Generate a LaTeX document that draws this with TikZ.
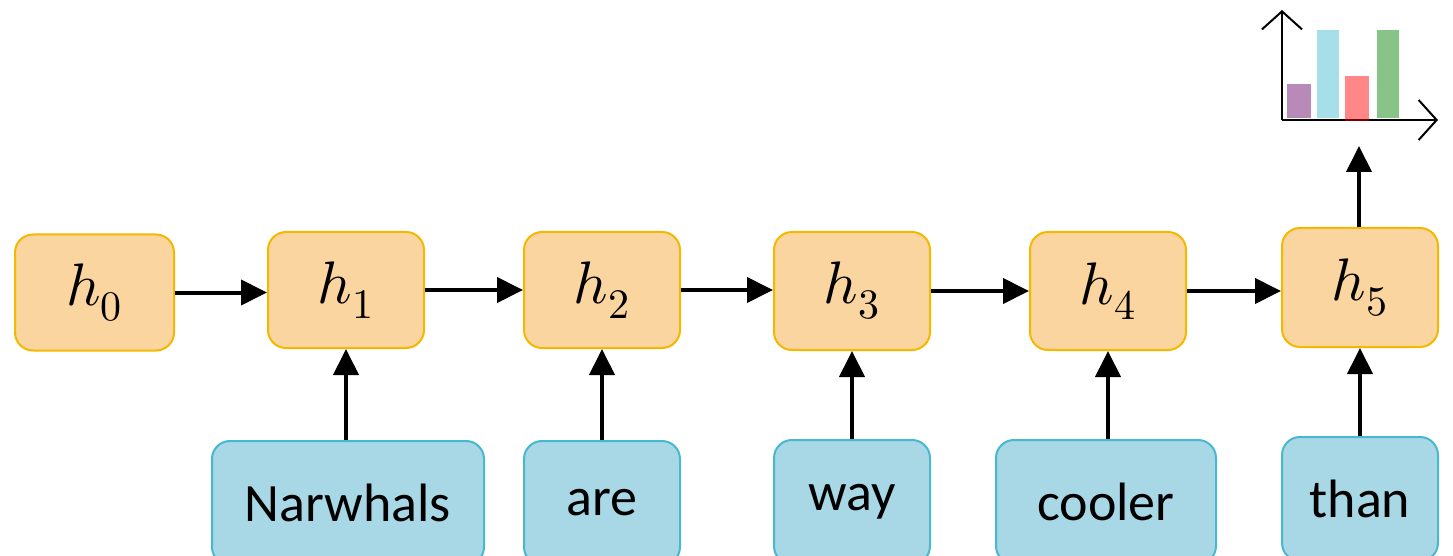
\documentclass[tikz,border=0pt]{standalone}
\usepackage{fontspec}
\setmainfont{Carlito}
\usepackage{unicode-math}
\setmathfont{Latin Modern Math}
\usetikzlibrary{arrows.meta}
\definecolor{hfill}{HTML}{FBD59F}
\definecolor{hdraw}{HTML}{F5B800}
\definecolor{wfill}{HTML}{A8D8E6}
\definecolor{wdraw}{HTML}{48B8D0}
\definecolor{barP}{HTML}{B88AB8}
\definecolor{barC}{HTML}{A6DEE9}
\definecolor{barG}{HTML}{88C488}
\tikzset{
  hbox/.style={draw=hdraw, fill=hfill, line width=1pt, rounded corners=9pt,
    minimum width=78pt, minimum height=58pt, inner sep=0pt,
    font=\fontsize{30}{34}\selectfont},
  wbox/.style={draw=wdraw, fill=wfill, line width=1pt, rounded corners=9pt,
    minimum width=78pt, minimum height=62pt, inner sep=0pt,
    font=\fontsize{27}{30}\selectfont},
  arr/.style={line width=2pt, -{Triangle[length=13pt,width=12.5pt]}},
  axis/.style={line width=1pt, -{Straight Barb[length=9pt,width=20pt,line width=1pt]}}
}
\begin{document}
\begin{tikzpicture}[x=0.5pt,y=-0.5pt]
\useasboundingbox (0,0) rectangle (1453,556);
\clip (0,0) rectangle (1453,556);
% hidden state boxes
\node[hbox, minimum width=79.5pt] (h0) at (94.5,292.5) {$h_0$};
\node[hbox] (h1) at (346,290) {$h_1$};
\node[hbox] (h2) at (602,290) {$h_2$};
\node[hbox, minimum height=59pt] (h3) at (852,291) {$h_3$};
\node[hbox, minimum height=59pt] (h4) at (1108,291) {$h_4$};
\node[hbox, minimum height=59.5pt] (h5) at (1360,287.5) {$h_5$};
% word boxes
\node[wbox, minimum width=136pt] (w1) at (348,503) {Narwhals};
\node[wbox] (w2) at (602,503) {are};
\node[wbox] (w3) at (852,502) {way};
\node[wbox, minimum width=110pt] (w4) at (1106,502) {cooler};
\node[wbox] (w5) at (1360,499) {than};
% horizontal arrows
\draw[arr] (h0.east) -- (h0.east -| h1.west);
\draw[arr] (h1.east) -- (h1.east -| h2.west);
\draw[arr] (h2.east) -- (h2.east -| h3.west);
\draw[arr] (h3.east) -- (h3.east -| h4.west);
\draw[arr] (h4.east) -- (h4.east -| h5.west);
% vertical arrows
\draw[arr] (w1.north -| h1.south) -- (h1.south);
\draw[arr] (w2.north -| h2.south) -- (h2.south);
\draw[arr] (w3.north -| h3.south) -- (h3.south);
\draw[arr] (w4.north -| h4.south) -- (h4.south);
\draw[arr] (w5.north -| h5.south) -- (h5.south);
% output arrow
\coordinate (out) at (1359,146);
\draw[arr] (h5.north -| out) -- (out);
% bar chart
\coordinate (o) at (1282,120);
\draw[axis] (o) -- (1282,10);
\draw[axis] (o) -- (1438,120);
\fill[barP] (1287,84) rectangle (1311,118);
\fill[barC] (1317,30) rectangle (1339,118);
\fill[red, fill opacity=0.47] (1345,76) rectangle (1369,121);
\fill[barG] (1377,30) rectangle (1399,118);
\end{tikzpicture}
\end{document}
